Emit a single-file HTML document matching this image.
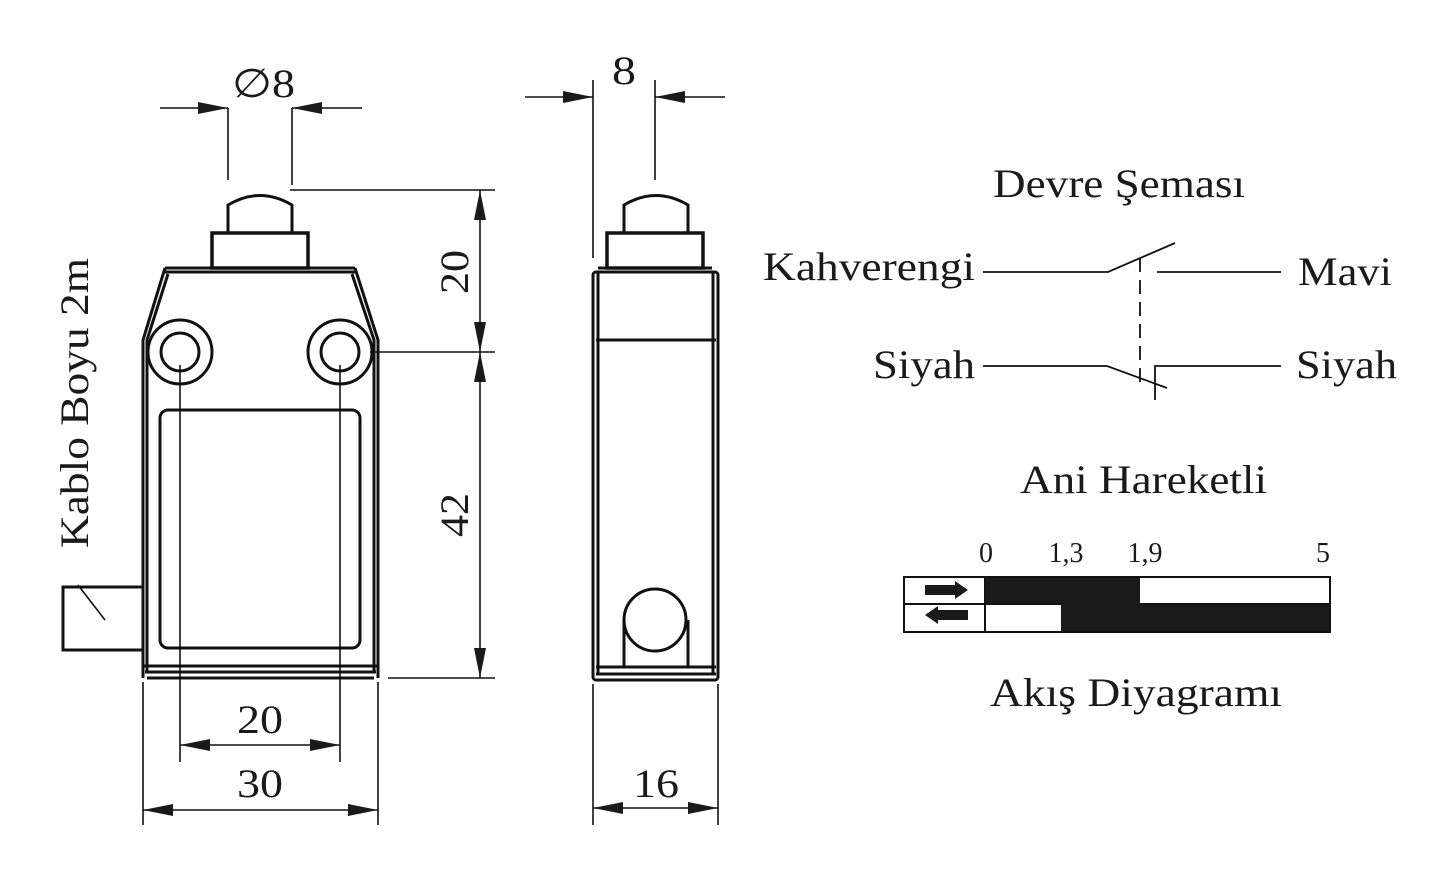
<!DOCTYPE html>
<html><head><meta charset="utf-8"><style>
html,body{margin:0;padding:0;background:#fff}
svg{display:block}
text{font-family:"Liberation Serif",serif;fill:#1a1a1a}
</style></head><body>
<svg width="1451" height="881" viewBox="0 0 1451 881" xmlns="http://www.w3.org/2000/svg">
<defs>
<marker id="A" viewBox="0 0 30 12" refX="30" refY="6" markerWidth="30" markerHeight="12" markerUnits="userSpaceOnUse" orient="auto"><path d="M0,0 L30,6 L0,12 z" fill="#1a1a1a"/></marker>
</defs>
<g stroke="#111" fill="none" stroke-width="3">
<path d="M228,233 L228,205 Q260,186 292,205 L292,233"/>
<rect x="212" y="233" width="96" height="35" stroke-width="3.5"/>
<path d="M165,268 L355,268 M163,272 L357,272"/>
<path d="M143,678 L143,340 L165,268 M147,672 L147,340 L168,274"/>
<path d="M378,678 L378,340 L355,268 M374,672 L374,340 L352,274"/>
<path d="M143,666 L378,666 M145,672 L376,672 M147,678 L374,678"/>
<circle cx="180" cy="352" r="32"/><circle cx="180" cy="352" r="19"/>
<circle cx="340" cy="352" r="32"/><circle cx="340" cy="352" r="19"/>
<rect x="160" y="410" width="200" height="238" rx="8"/>
<rect x="63" y="587" width="80" height="63"/>
</g>
<g stroke="#111" fill="none" stroke-width="1.6">
<path d="M105,620 L78,585"/>
<path d="M228,108 L228,180 M292,108 L292,185"/>
<path d="M160,108 L228,108" marker-end="url(#A)"/>
<path d="M362,108 L292,108" marker-end="url(#A)"/>
<path d="M290,190 L495,190 M370,352 L495,352 M388,678 L495,678"/>
<path d="M480,272 L480,190" marker-end="url(#A)"/>
<path d="M480,272 L480,352" marker-end="url(#A)"/>
<path d="M480,515 L480,352" marker-end="url(#A)"/>
<path d="M480,515 L480,678" marker-end="url(#A)"/>
<path d="M180,365 L180,762 M340,365 L340,762 M143,682 L143,825 M378,682 L378,825"/>
<path d="M260,745 L180,745" marker-end="url(#A)"/>
<path d="M260,745 L340,745" marker-end="url(#A)"/>
<path d="M260,810 L143,810" marker-end="url(#A)"/>
<path d="M260,810 L378,810" marker-end="url(#A)"/>
</g>
<g stroke="#111" fill="none" stroke-width="3">
<path d="M624,233 L624,205 Q656,186 688,205 L688,233"/>
<rect x="607" y="233" width="96" height="35" stroke-width="3.5"/>
<path d="M598,268 L712,268 M596,272 L714,272"/>
<rect x="593" y="272" width="125" height="408" rx="3"/>
<path d="M598,272 L598,674 M713,272 L713,674 M596,340 L716,340 M596,667 L716,667 M596,674 L716,674"/>
<circle cx="655" cy="620" r="31"/>
<path d="M624,620 L624,667 M688,620 L688,667"/>
</g>
<g stroke="#111" fill="none" stroke-width="1.6">
<path d="M593,80 L593,258 M655,80 L655,180"/>
<path d="M525,97 L593,97" marker-end="url(#A)"/>
<path d="M725,97 L655,97" marker-end="url(#A)"/>
<path d="M593,684 L593,825 M718,684 L718,825"/>
<path d="M655,808 L593,808" marker-end="url(#A)"/>
<path d="M655,808 L718,808" marker-end="url(#A)"/>
</g>
<g font-size="40" lengthAdjust="spacingAndGlyphs">
<text x="232" y="97" textLength="63" lengthAdjust="spacingAndGlyphs">∅8</text>
<text x="612" y="84" textLength="24" lengthAdjust="spacingAndGlyphs">8</text>
<text transform="translate(468,272) rotate(-90)" x="-22" textLength="44" lengthAdjust="spacingAndGlyphs">20</text>
<text transform="translate(468,515) rotate(-90)" x="-22" textLength="44" lengthAdjust="spacingAndGlyphs">42</text>
<text x="237" y="733" textLength="46" lengthAdjust="spacingAndGlyphs">20</text>
<text x="237" y="797" textLength="46" lengthAdjust="spacingAndGlyphs">30</text>
<text x="633" y="797" textLength="46" lengthAdjust="spacingAndGlyphs">16</text>
<text transform="translate(88,548) rotate(-90)" textLength="290" lengthAdjust="spacingAndGlyphs">Kablo Boyu 2m</text>
<text x="993" y="197" textLength="252" lengthAdjust="spacingAndGlyphs">Devre Şeması</text>
<text x="763" y="280" textLength="212" lengthAdjust="spacingAndGlyphs">Kahverengi</text>
<text x="1298" y="285" textLength="94" lengthAdjust="spacingAndGlyphs">Mavi</text>
<text x="873" y="378" textLength="102" lengthAdjust="spacingAndGlyphs">Siyah</text>
<text x="1296" y="378" textLength="101" lengthAdjust="spacingAndGlyphs">Siyah</text>
<text x="1020" y="493" textLength="247" lengthAdjust="spacingAndGlyphs">Ani Hareketli</text>
<text x="990" y="706" textLength="292" lengthAdjust="spacingAndGlyphs">Akış Diyagramı</text>
</g>
<g stroke="#111" fill="none" stroke-width="1.8">
<path d="M983,272 L1108,272 L1175,243 M1157,272 L1281,272"/>
<path d="M1140,258 L1140,385" stroke-dasharray="14,8"/>
<path d="M983,366 L1107,366 L1167,388 M1155,400 L1155,366 L1281,366"/>
</g>
<text x="986" y="562" font-size="28" text-anchor="middle">0</text>
<text x="1066" y="562" font-size="28" text-anchor="middle">1,3</text>
<text x="1145" y="562" font-size="28" text-anchor="middle">1,9</text>
<text x="1323" y="562" font-size="28" text-anchor="middle">5</text>
<rect x="985" y="576" width="155" height="28" fill="#1a1a1a"/>
<rect x="1061" y="604" width="269" height="28" fill="#1a1a1a"/>
<g stroke="#111" fill="none" stroke-width="2">
<rect x="904" y="577" width="426" height="55"/>
<path d="M904,604 L1061,604 M985,577 L985,632 M1140,604 L1330,604"/>
</g>
<path d="M925,585 L955,585 L955,581 L968,590 L955,599 L955,595 L925,595 z" fill="#1a1a1a"/>
<path d="M968,610 L938,610 L938,606 L925,615 L938,624 L938,620 L968,620 z" fill="#1a1a1a"/>
</svg>
</body></html>
